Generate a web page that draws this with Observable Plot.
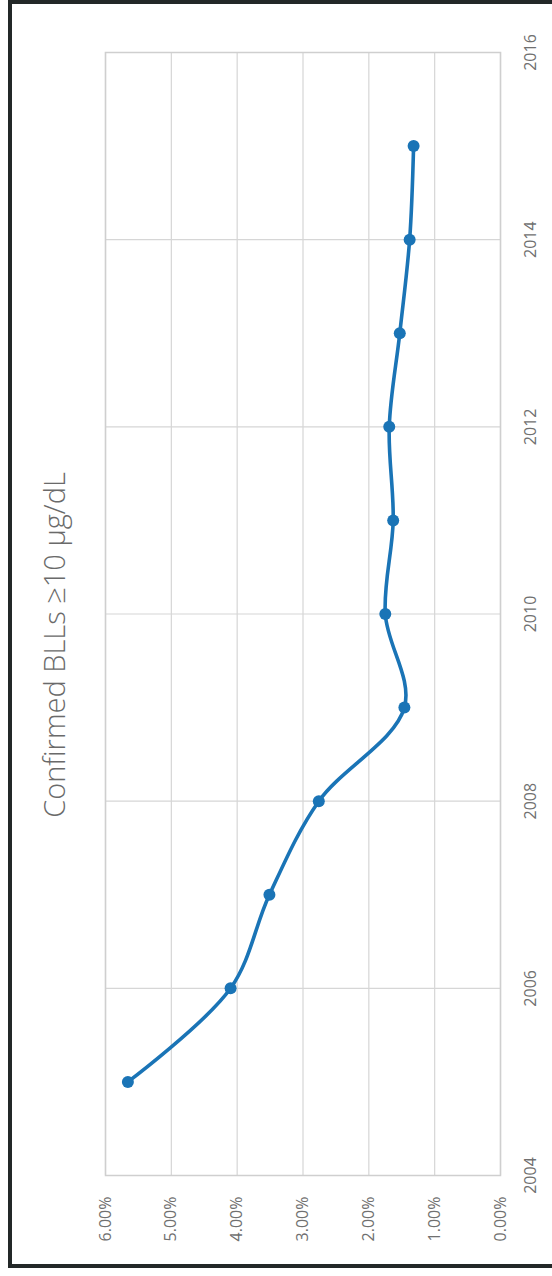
<!DOCTYPE html>
<html>
<head>
<meta charset="utf-8">
<script src="https://cdn.jsdelivr.net/npm/d3@7"></script>
<script src="https://cdn.jsdelivr.net/npm/@observablehq/plot@0.6"></script>
<style>
  html, body { margin: 0; padding: 0; background: #fff; overflow: hidden; }
  #wrap { position: relative; width: 552px; height: 1276px; }
  #border { position: absolute; left: 8px; top: 0px; width: 600px; height: 1268px;
            border: 4px solid #232828; box-sizing: border-box; pointer-events: none; }
  svg { display: block; }
</style>
</head>
<body>
<div id="wrap"><div id="border"></div></div>
<script>
// Data
const years = [2005, 2006, 2007, 2008, 2009, 2010, 2011, 2012, 2013, 2014, 2015];
const rates = [5.66, 4.10, 3.51, 2.76, 1.46, 1.75, 1.63, 1.69, 1.53, 1.38, 1.32]; // percent
const yearTicks = [2004, 2006, 2008, 2010, 2012, 2014, 2016];
const pctTicks = [0, 1, 2, 3, 4, 5, 6];
const title = "Confirmed BLLs \u226510 \u00b5g/dL";

const data = years.map((y, i) => ({year: y, rate: rates[i]}));

const lineColor = "#1a74b6";
const gridColor = "#d6d6d6";
const labelColor = "#707070";
const font = "'Open Sans', Lato, sans-serif";

const chart = Plot.plot({
  width: 552,
  height: 1276,
  marginLeft: 105,
  marginRight: 52,
  marginTop: 52,
  marginBottom: 101,
  style: {fontFamily: font, background: "transparent"},
  x: {domain: [0, 6], reverse: true, axis: null},
  y: {domain: [2004, 2016], axis: null},
  marks: [
    Plot.gridX(pctTicks, {stroke: gridColor, strokeOpacity: 1, strokeWidth: 1.2}),
    Plot.gridY(yearTicks, {stroke: gridColor, strokeOpacity: 1, strokeWidth: 1.2}),
    Plot.frame({stroke: "#cfcfcf", strokeWidth: 1.5}),
    // percentage tick labels (bottom, rotated)
    Plot.text(pctTicks, {
      x: d => d, y: 2004, text: d => d.toFixed(2) + "%",
      rotate: -90, textAnchor: "end", lineAnchor: "middle", dy: 21,
      fill: labelColor, fontSize: 16
    }),
    // year tick labels (right, rotated)
    Plot.text(yearTicks, {
      x: 0, y: d => d, text: d => String(d),
      rotate: -90, textAnchor: "middle", lineAnchor: "middle", dx: 30,
      fill: labelColor, fontSize: 16
    }),
    // title
    Plot.text([title], {
      frameAnchor: "left", text: d => d, rotate: -90, textAnchor: "middle",
      lineAnchor: "middle", dx: -50, dy: 31,
      fill: "#6a6a6a", fontSize: 29, fontWeight: 300
    }),
    Plot.line(data, {x: "rate", y: "year", stroke: lineColor, strokeWidth: 3.6, curve: "catmull-rom"}),
    Plot.dot(data, {x: "rate", y: "year", r: 6, fill: lineColor, stroke: "none"})
  ]
});
document.getElementById("wrap").prepend(chart);
</script>
</body>
</html>
